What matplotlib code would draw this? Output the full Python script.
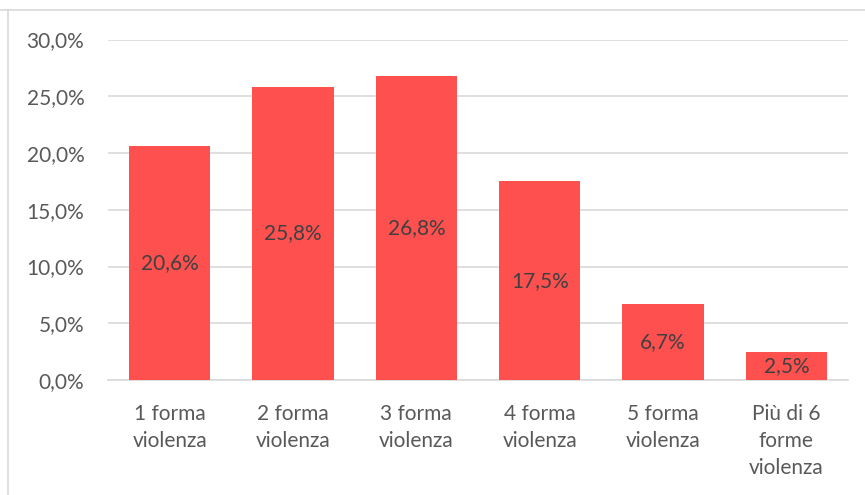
import matplotlib.pyplot as plt
from matplotlib.lines import Line2D

categorie = ['1 forma\nviolenza', '2 forma\nviolenza', '3 forma\nviolenza',
             '4 forma\nviolenza', '5 forma\nviolenza', 'Più di 6\nforme\nviolenza']
valori = [20.6, 25.8, 26.8, 17.5, 6.7, 2.5]
yticks = [0, 5, 10, 15, 20, 25, 30]

plt.rcParams['font.family'] = ['Lato', 'DejaVu Sans']

fig = plt.figure(figsize=(8.65, 4.95), dpi=100)
ax = fig.add_axes([108 / 865, 115 / 495, 740 / 865, 340.5 / 495])

x = range(len(valori))
bars = ax.bar(x, valori, width=0.66, color='#FF5050', zorder=3)

for b, v in zip(bars, valori):
    ax.text(b.get_x() + b.get_width() / 2, v / 2, f'{v:.1f}%'.replace('.', ','),
            ha='center', va='center', fontsize=15, color='#404040', zorder=4)

ax.set_xlim(-0.5, len(valori) - 0.5)
ax.set_ylim(0, 30)
ax.set_yticks(yticks)
ax.set_yticklabels([f'{t:.1f}%'.replace('.', ',') for t in yticks])
ax.set_xticks(list(x))
ax.set_xticklabels(categorie, linespacing=1.45)

ax.grid(axis='y', color='#D9D9D9', linewidth=1.2, zorder=0)
for s in ['top', 'right', 'left']:
    ax.spines[s].set_visible(False)
ax.spines['bottom'].set_color('#D9D9D9')
ax.spines['bottom'].set_linewidth(1.2)
ax.tick_params(axis='both', length=0, labelsize=15, colors='#595959')
ax.tick_params(axis='y', pad=17)
ax.tick_params(axis='x', pad=17)

# bordo del grafico
fig.add_artist(Line2D([0, 1], [1 - 10 / 495, 1 - 10 / 495], color='#D9D9D9', linewidth=1.2))
fig.add_artist(Line2D([8 / 865, 8 / 865], [0, 1 - 10 / 495], color='#D9D9D9', linewidth=1.2))

fig.savefig('out.png', dpi=100)
